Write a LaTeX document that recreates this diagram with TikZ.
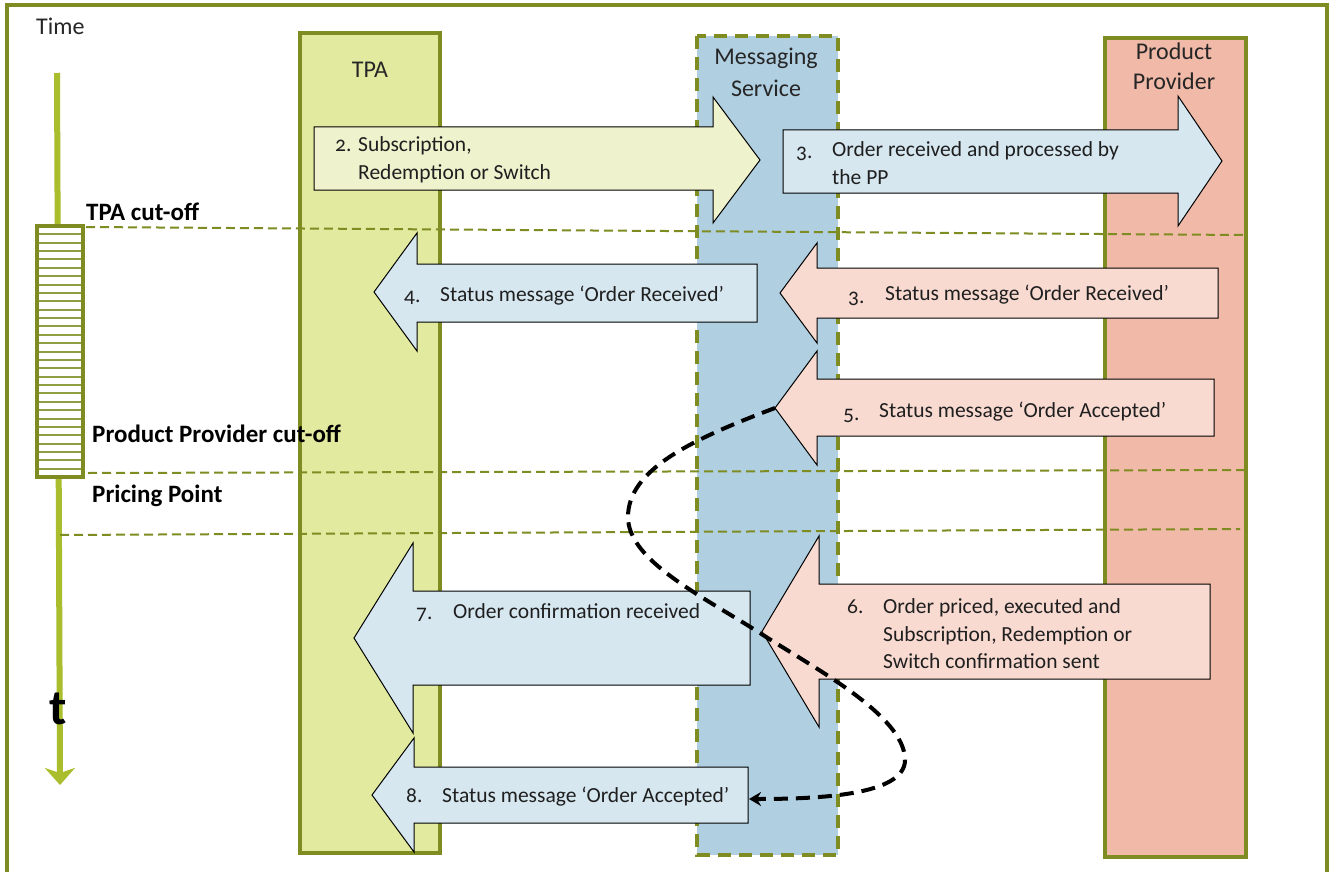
\documentclass[tikz,border=0pt]{standalone}
\usepackage{fontspec}
\setmainfont[Numbers=OldStyle]{Carlito}
\usetikzlibrary{arrows.meta}
\definecolor{frameolive}{HTML}{7E8C22}
\definecolor{timegreen}{HTML}{A9BD2D}
\definecolor{tpafill}{HTML}{E2EA9F}
\definecolor{msgfill}{HTML}{B0CFE1}
\definecolor{ppfill}{HTML}{F1B9A7}
\definecolor{yelarrow}{HTML}{EEF3CD}
\definecolor{bluearrow}{HTML}{D6E7F0}
\definecolor{salarrow}{HTML}{F8DAD1}
\newcommand\BlockArrow[9]{%
  \draw[#1] (#3,#6) -- (#4,#6) -- (#4,#8) -- (#5,{(#8+#9)/2}) -- (#4,#9) -- (#4,#7) -- (#3,#7) -- cycle;
  \coordinate (#2-tip) at (#5,{(#8+#9)/2});
  \coordinate (#2-end) at (#3,{(#6+#7)/2});
}
\tikzset{
  arrowtext/.style={anchor=base west, inner sep=0pt, font=\fontsize{21.5}{28}\selectfont, text=black!88},
  lanetext/.style={anchor=base, inner sep=0pt, font=\fontsize{24}{30}\selectfont, text=black!85},
  boldlabel/.style={anchor=base west, inner sep=0pt, font=\bfseries\fontsize{25}{30}\selectfont},
  cutline/.style={draw=frameolive, line width=2pt, dash pattern=on 9pt off 5pt},
  lanebox/.style={draw=frameolive, line width=4pt},
  yblock/.style={fill=yelarrow, draw=black, line width=1pt},
  bblock/.style={fill=bluearrow, draw=black, line width=1pt},
  sblock/.style={fill=salarrow, draw=black, line width=1pt},
  flowcurve/.style={draw=black, line width=4pt, dash pattern=on 14pt off 8pt, -{Stealth[length=12pt,width=14pt]}},
}
\begin{document}
\begin{tikzpicture}[x=1pt,y=-1pt]
\useasboundingbox (0,0) rectangle (1336,872);
\fill[white] (0,0) rectangle (1336,872);
% outer frame
\draw[frameolive, line width=3.5pt] (7,5) rectangle (1327,900);
\node[anchor=base west, inner sep=0pt, font=\fontsize{24}{30}\selectfont, text=black!85] (timelbl) at (36,35) {Time};
% timeline
\coordinate (ttop) at (57,73);
\coordinate (tbot) at (60,785);
\draw[timegreen, line width=6pt, -{Stealth[length=17pt,width=30pt,inset=5pt]}] (ttop) -- (tbot);
\draw[frameolive, line width=4pt, fill=white] (37,226) rectangle (83,477);
\foreach \i in {1,...,29} \draw[frameolive!85, line width=2pt] (39,{226+\i*8.37}) -- (81,{226+\i*8.37});
\node[anchor=base, inner sep=0pt, font=\bfseries\fontsize{50}{54}\selectfont] (tlbl) at (58,724) {t};
% lanes
\draw[lanebox, fill=tpafill] (300,33) rectangle (440,853);
\node[lanetext] (tpa) at (370,78) {TPA};
\fill[msgfill] (697,36) rectangle (838,855);
\draw[frameolive, line width=3.5pt, dash pattern=on 13pt off 8pt] (697,36) rectangle (838,855);
\node[lanetext] (msg1) at (766,65) {Messaging};
\node[lanetext] (msg2) at (766,97) {Service};
\draw[lanebox, fill=ppfill] (1105,38) rectangle (1246,857);
\node[lanetext] (pp1) at (1174,60) {Product};
\node[lanetext] (pp2) at (1174,90) {Provider};
% cut-off lines
\coordinate (c1a) at (86,227); \coordinate (c1b) at (1245,235);
\coordinate (c2a) at (88,473); \coordinate (c2b) at (1245,470);
\coordinate (c3a) at (60,535); \coordinate (c3b) at (1240,529);
\draw[cutline] (c1a) -- (c1b);
\draw[cutline] (c2a) -- (c2b);
\draw[cutline] (c3a) -- (c3b);
\node[boldlabel] (tpacut) at (86,220) {TPA cut-off};
\node[boldlabel] (ppcut) at (92,442) {Product Provider cut-off};
\node[boldlabel] (pricing) at (92,502) {Pricing Point};
% block arrows
\BlockArrow{yblock}{a2}{314}{713}{760}{127}{190}{97}{223}
\BlockArrow{bblock}{a3}{783}{1178}{1222}{130}{193}{96}{226}
\BlockArrow{bblock}{a4}{757}{417}{374}{264}{322}{233}{351}
\BlockArrow{sblock}{a3s}{1218}{817}{780}{268}{318}{243}{343}
\BlockArrow{sblock}{a5}{1214}{817}{775}{379}{436}{351}{465}
\BlockArrow{sblock}{a6}{1210}{819}{762}{584}{679}{536}{727}
\BlockArrow{bblock}{a7}{750}{413}{354}{591}{685}{543}{733}
\BlockArrow{bblock}{a8}{748}{414}{372}{767}{823}{738}{852}
% arrow texts
\node[arrowtext] (n2) at (335,152) {2.};
\node[arrowtext] (t2a) at (358,152) {Subscription,};
\node[arrowtext] (t2b) at (358,179) {Redemption or Switch};
\node[arrowtext] (n3) at (796,158) {3.};
\node[arrowtext] (t3a) at (832,157) {Order received and processed by};
\node[arrowtext] (t3b) at (832,184) {the PP};
\node[arrowtext] (n4) at (404,302) {4.};
\node[arrowtext] (t4) at (440,301) {Status message ‘Order Received’};
\node[arrowtext] (n3s) at (848,303) {3.};
\node[arrowtext] (t3s) at (885,300) {Status message ‘Order Received’};
\node[arrowtext] (n5) at (843,420) {5.};
\node[arrowtext] (t5) at (879,417) {Status message ‘Order Accepted’};
\node[arrowtext] (n6) at (847,613) {6.};
\node[arrowtext] (t6a) at (883,613) {Order priced, executed and};
\node[arrowtext] (t6b) at (883,641) {Subscription, Redemption or};
\node[arrowtext] (t6c) at (883,668) {Switch confirmation sent};
\node[arrowtext] (n7) at (416,619) {7.};
\node[arrowtext] (t7) at (453,618) {Order confirmation received};
\node[arrowtext] (n8) at (406,802) {8.};
\node[arrowtext] (t8) at (442,802) {Status message ‘Order Accepted’};
% dashed flow curve
\coordinate (cend) at (749,799);
\draw[flowcurve] (a5-tip) .. controls (690,440) and (628,470) .. (628,517)
  .. controls (628,560) and (700,595) .. (760,633)
  .. controls (812,667) and (905,715) .. (905,760)
  .. controls (905,795) and (820,799) .. (cend);
\end{tikzpicture}
\end{document}
